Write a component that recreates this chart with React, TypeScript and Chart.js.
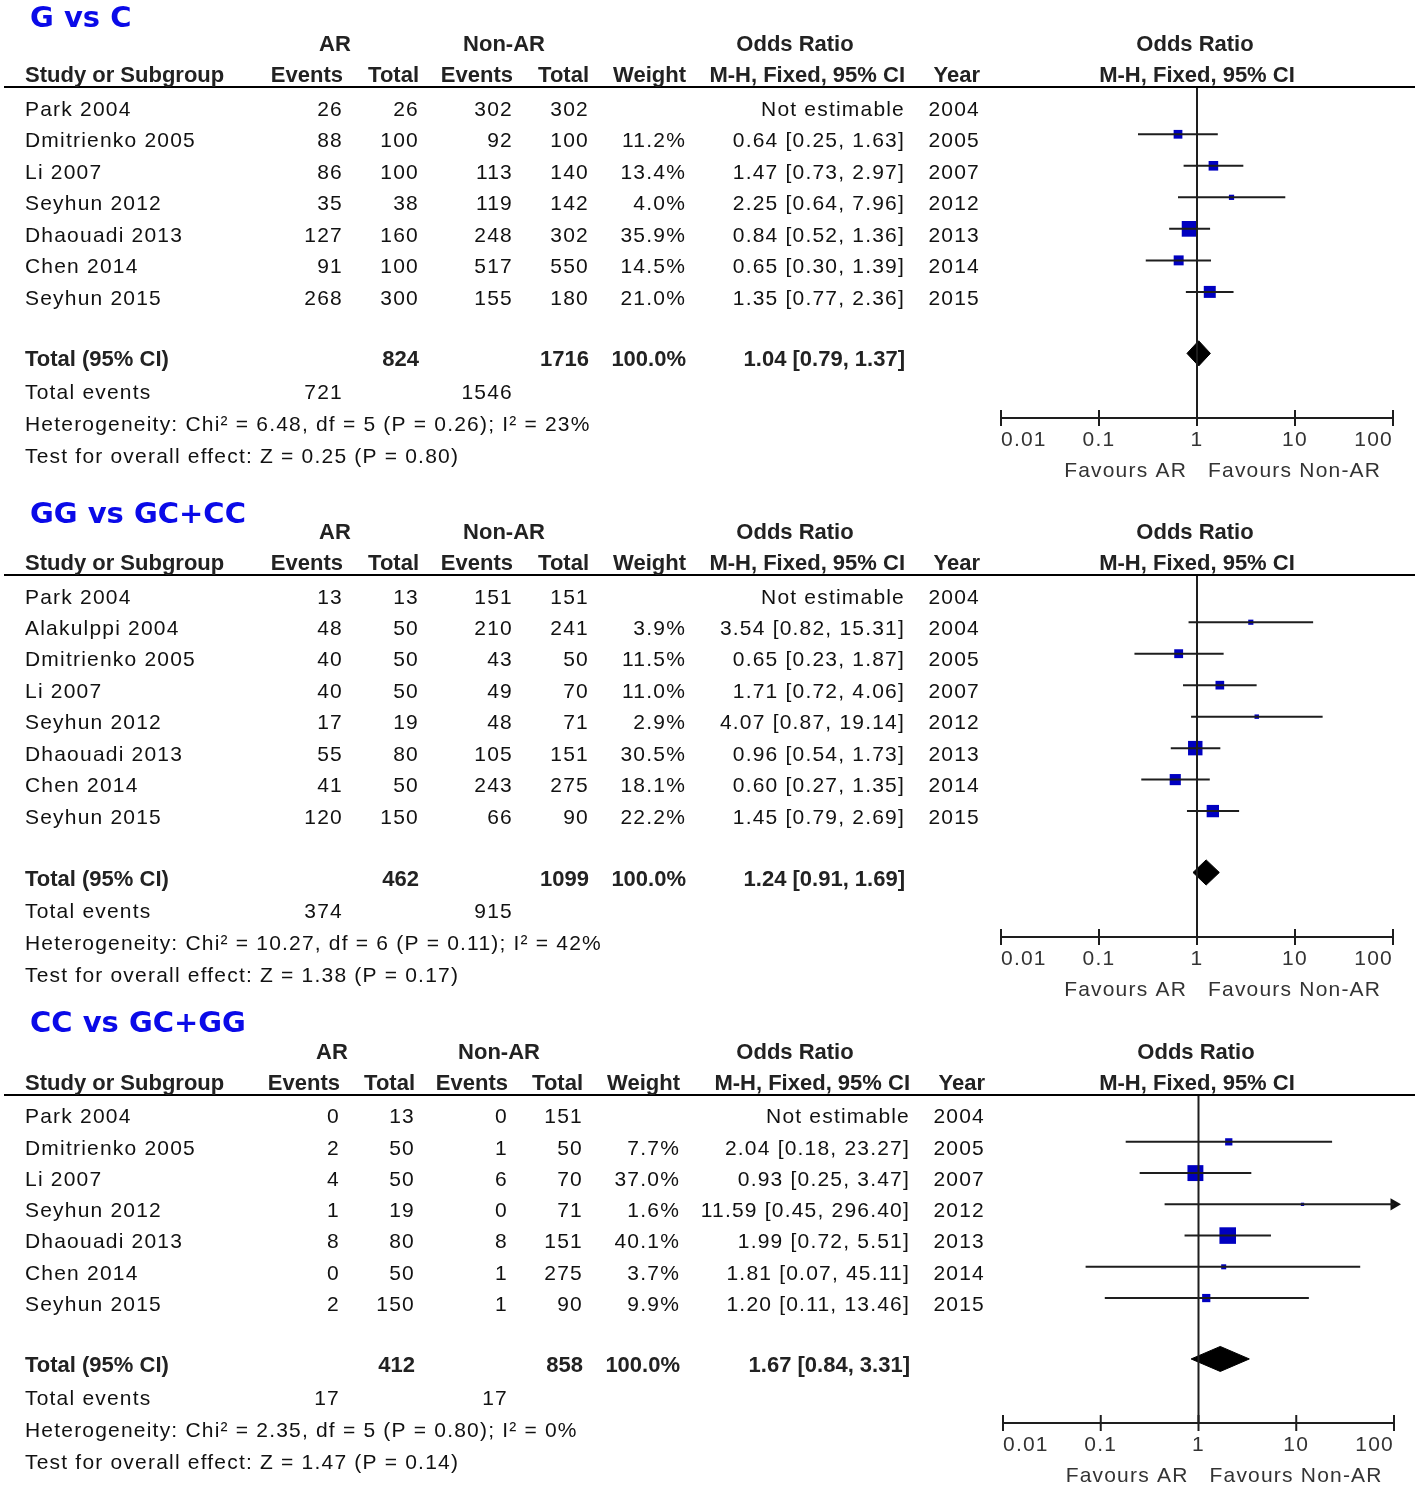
import React, { useEffect, useRef } from "react";
import { Chart, registerables } from "chart.js";

Chart.register(...registerables);

// ---------- Panel 1: G vs C ----------
const title1 = "G vs C";
const studies1 = ["Park 2004", "Dmitrienko 2005", "Li 2007", "Seyhun 2012", "Dhaouadi 2013", "Chen 2014", "Seyhun 2015"];
const arEvents1 = [26, 88, 86, 35, 127, 91, 268];
const arTotal1 = [26, 100, 100, 38, 160, 100, 300];
const nonEvents1 = [302, 92, 113, 119, 248, 517, 155];
const nonTotal1 = [302, 100, 140, 142, 302, 550, 180];
const weights1 = [null, 11.2, 13.4, 4.0, 35.9, 14.5, 21.0];
const ors1 = [null, 0.64, 1.47, 2.25, 0.84, 0.65, 1.35];
const los1 = [null, 0.25, 0.73, 0.64, 0.52, 0.3, 0.77];
const his1 = [null, 1.63, 2.97, 7.96, 1.36, 1.39, 2.36];
const years1 = [2004, 2005, 2007, 2012, 2013, 2014, 2015];
const totals1 = [824, 1716];
const totalOR1 = [1.04, 0.79, 1.37];
const totalEvents1 = [721, 1546];
const hetero1 = "Heterogeneity: Chi\u00B2 = 6.48, df = 5 (P = 0.26); I\u00B2 = 23%";
const test1 = "Test for overall effect: Z = 0.25 (P = 0.80)";

// ---------- Panel 2: GG vs GC+CC ----------
const title2 = "GG vs GC+CC";
const studies2 = ["Park 2004", "Alakulppi 2004", "Dmitrienko 2005", "Li 2007", "Seyhun 2012", "Dhaouadi 2013", "Chen 2014", "Seyhun 2015"];
const arEvents2 = [13, 48, 40, 40, 17, 55, 41, 120];
const arTotal2 = [13, 50, 50, 50, 19, 80, 50, 150];
const nonEvents2 = [151, 210, 43, 49, 48, 105, 243, 66];
const nonTotal2 = [151, 241, 50, 70, 71, 151, 275, 90];
const weights2 = [null, 3.9, 11.5, 11.0, 2.9, 30.5, 18.1, 22.2];
const ors2 = [null, 3.54, 0.65, 1.71, 4.07, 0.96, 0.6, 1.45];
const los2 = [null, 0.82, 0.23, 0.72, 0.87, 0.54, 0.27, 0.79];
const his2 = [null, 15.31, 1.87, 4.06, 19.14, 1.73, 1.35, 2.69];
const years2 = [2004, 2004, 2005, 2007, 2012, 2013, 2014, 2015];
const totals2 = [462, 1099];
const totalOR2 = [1.24, 0.91, 1.69];
const totalEvents2 = [374, 915];
const hetero2 = "Heterogeneity: Chi\u00B2 = 10.27, df = 6 (P = 0.11); I\u00B2 = 42%";
const test2 = "Test for overall effect: Z = 1.38 (P = 0.17)";

// ---------- Panel 3: CC vs GC+GG ----------
const title3 = "CC vs GC+GG";
const studies3 = ["Park 2004", "Dmitrienko 2005", "Li 2007", "Seyhun 2012", "Dhaouadi 2013", "Chen 2014", "Seyhun 2015"];
const arEvents3 = [0, 2, 4, 1, 8, 0, 2];
const arTotal3 = [13, 50, 50, 19, 80, 50, 150];
const nonEvents3 = [0, 1, 6, 0, 8, 1, 1];
const nonTotal3 = [151, 50, 70, 71, 151, 275, 90];
const weights3 = [null, 7.7, 37.0, 1.6, 40.1, 3.7, 9.9];
const ors3 = [null, 2.04, 0.93, 11.59, 1.99, 1.81, 1.2];
const los3 = [null, 0.18, 0.25, 0.45, 0.72, 0.07, 0.11];
const his3 = [null, 23.27, 3.47, 296.4, 5.51, 45.11, 13.46];
const years3 = [2004, 2005, 2007, 2012, 2013, 2014, 2015];
const totals3 = [412, 858];
const totalOR3 = [1.67, 0.84, 3.31];
const totalEvents3 = [17, 17];
const hetero3 = "Heterogeneity: Chi\u00B2 = 2.35, df = 5 (P = 0.80); I\u00B2 = 0%";
const test3 = "Test for overall effect: Z = 1.47 (P = 0.14)";

// ---------- shared labels ----------
const tickValues = [0.01, 0.1, 1, 10, 100];
const tickLabels = ["0.01", "0.1", "1", "10", "100"];
const groupHeaders = ["AR", "Non-AR", "Odds Ratio", "Odds Ratio"];
const colHeaders = ["Study or Subgroup", "Events", "Total", "Events", "Total", "Weight", "M-H, Fixed, 95% CI", "Year"];
const plotHeader = "M-H, Fixed, 95% CI";
const favours = ["Favours AR", "Favours Non-AR"];
const totalLabels = ["Total (95% CI)", "Total events"];
const totalWeight = "100.0%";
const notEstimable = "Not estimable";

const panels = [
  { title: title1, studies: studies1, arEvents: arEvents1, arTotal: arTotal1, nonEvents: nonEvents1, nonTotal: nonTotal1, weights: weights1, ors: ors1, los: los1, his: his1, years: years1, totals: totals1, totalOR: totalOR1, totalEvents: totalEvents1, hetero: hetero1, test: test1 },
  { title: title2, studies: studies2, arEvents: arEvents2, arTotal: arTotal2, nonEvents: nonEvents2, nonTotal: nonTotal2, weights: weights2, ors: ors2, los: los2, his: his2, years: years2, totals: totals2, totalOR: totalOR2, totalEvents: totalEvents2, hetero: hetero2, test: test2 },
  { title: title3, studies: studies3, arEvents: arEvents3, arTotal: arTotal3, nonEvents: nonEvents3, nonTotal: nonTotal3, weights: weights3, ors: ors3, los: los3, his: his3, years: years3, totals: totals3, totalOR: totalOR3, totalEvents: totalEvents3, hetero: hetero3, test: test3 },
];

// layout (page coordinates)
const COLS_A = [25, 343, 419, 513, 589, 686, 905, 980];
const COLS_B = [25, 340, 415, 508, 583, 680, 910, 985];
const layouts = [
  { top: 0, height: 492, line: 87, axis: 418, left: 1001, right: 1393, cols: COLS_A, groups: [335, 504, 795, 1195], mh: 1197, titleY: 19 },
  { top: 492, height: 508, line: 575, axis: 937, left: 1001, right: 1393, cols: COLS_A, groups: [335, 504, 795, 1195], mh: 1197, titleY: 515 },
  { top: 1000, height: 489, line: 1095, axis: 1423, left: 1003, right: 1394, cols: COLS_B, groups: [332, 499, 795, 1196], mh: 1197, titleY: 1024 },
];

const W = 1418;
const FONT_N = '21px "Liberation Sans", Arial, sans-serif';
const FONT_B = 'bold 22px "Liberation Sans", Arial, sans-serif';
const FONT_T = 'bold 29px "DejaVu Sans", sans-serif';
const TEXT = "#111111";
const HEAD = "#222222";
const LINE = "#1e1e1e";
const BLUE = "#0000c0";
const TICK_PAD = 10;

function fmtOR(o: number, lo: number, hi: number) {
  return `${o.toFixed(2)} [${lo.toFixed(2)}, ${hi.toFixed(2)}]`;
}

function ForestPanel({ d, lay }: { d: any; lay: any }) {
  const ref = useRef<HTMLCanvasElement>(null);
  useEffect(() => {
    const canvas = ref.current;
    if (!canvas) return;
    const n = d.studies.length;
    const yMin = -0.5;
    const yMax = n + 3;
    const tRow = n + 0.95;
    const idx: number[] = d.ors.map((v: any, i: number) => (v == null ? -1 : i)).filter((i: number) => i >= 0);
    const axisMax = tickValues[tickValues.length - 1];

    const datasets: any[] = [];
    // reference line at OR = 1
    datasets.push({
      data: [{ x: 1, y: yMin }, { x: 1, y: yMax }],
      borderColor: LINE, borderWidth: 2, pointRadius: 0, fill: false,
    });
    // confidence intervals
    idx.forEach((i) => {
      datasets.push({
        data: [{ x: d.los[i], y: i }, { x: d.his[i], y: i }],
        borderColor: LINE, borderWidth: 2, pointRadius: 0, fill: false,
      });
    });
    // study squares (area proportional to weight)
    datasets.push({
      data: idx.map((i) => ({ x: d.ors[i], y: i })),
      showLine: false,
      pointStyle: "rect",
      pointRadius: idx.map((i) => 1.85 * Math.sqrt(d.weights[i])),
      pointBackgroundColor: BLUE,
      pointBorderColor: BLUE,
      pointBorderWidth: 0,
    });
    // arrows for CIs beyond the axis
    const arrows = idx.filter((i) => d.his[i] > axisMax);
    if (arrows.length) {
      datasets.push({
        data: arrows.map((i) => ({ x: axisMax, y: i })),
        showLine: false, pointStyle: "triangle", pointRotation: 90, pointRadius: 7,
        pointBackgroundColor: "#111", pointBorderWidth: 0, clip: false,
      });
    }
    // pooled diamond
    const [o, lo, hi] = d.totalOR;
    datasets.push({
      data: [
        { x: lo, y: tRow }, { x: o, y: tRow - 0.4 }, { x: hi, y: tRow },
        { x: o, y: tRow + 0.4 }, { x: lo, y: tRow },
      ],
      fill: "shape", backgroundColor: "#000", borderColor: "#000", borderWidth: 1,
      pointRadius: 0, tension: 0,
    });
    // axis tick marks crossing the axis line
    datasets.push({
      data: tickValues.map((v) => ({ x: v, y: yMax })),
      showLine: false, pointStyle: "line", pointRotation: 90, pointRadius: 8,
      pointBorderWidth: 2, pointBorderColor: LINE, clip: false,
    });

    const T = lay.top;
    const txt = (ctx: any, s: string, x: number, y: number, align: string, font: string, color = TEXT, spacing = "1.2px") => {
      ctx.font = font;
      ctx.textAlign = align;
      ctx.textBaseline = "middle";
      ctx.fillStyle = color;
      ctx.letterSpacing = spacing;
      ctx.fillText(s, x, y);
    };

    const tablePlugin = {
      id: "forestTable",
      beforeDraw(chart: any) {
        (chart.ctx as any).letterSpacing = "1.2px";
      },
      afterDraw(chart: any) {
        const ctx = chart.ctx;
        const ys = chart.scales.y;
        const xs = chart.scales.x;
        const lineY = chart.chartArea.top;
        const c = lay.cols;
        ctx.save();
        // title
        txt(ctx, d.title, 30, lay.titleY - T, "left", FONT_T, "#0a0ae8", "0px");
        // header line
        ctx.strokeStyle = "#000";
        ctx.lineWidth = 2;
        ctx.beginPath();
        ctx.moveTo(4, lineY);
        ctx.lineTo(1415, lineY);
        ctx.stroke();
        // group headers
        const gy = lineY - 42;
        groupHeaders.forEach((g, k) => txt(ctx, g, lay.groups[k], gy, "center", FONT_B, HEAD, "0px"));
        // column headers
        const hy = lineY - 11;
        txt(ctx, colHeaders[0], c[0], hy, "left", FONT_B, HEAD, "0px");
        for (let k = 1; k < colHeaders.length; k++) txt(ctx, colHeaders[k], c[k], hy, "right", FONT_B, HEAD, "0px");
        txt(ctx, plotHeader, lay.mh, hy, "center", FONT_B, HEAD, "0px");
        // study rows
        d.studies.forEach((s: string, i: number) => {
          const y = ys.getPixelForValue(i) + 7;
          txt(ctx, s, c[0], y, "left", FONT_N);
          txt(ctx, String(d.arEvents[i]), c[1], y, "right", FONT_N);
          txt(ctx, String(d.arTotal[i]), c[2], y, "right", FONT_N);
          txt(ctx, String(d.nonEvents[i]), c[3], y, "right", FONT_N);
          txt(ctx, String(d.nonTotal[i]), c[4], y, "right", FONT_N);
          if (d.weights[i] != null) txt(ctx, d.weights[i].toFixed(1) + "%", c[5], y, "right", FONT_N);
          const orText = d.ors[i] == null ? notEstimable : fmtOR(d.ors[i], d.los[i], d.his[i]);
          txt(ctx, orText, c[6], y, "right", FONT_N);
          txt(ctx, String(d.years[i]), c[7], y, "right", FONT_N);
        });
        // total row
        const ty = ys.getPixelForValue(tRow) + 7;
        txt(ctx, totalLabels[0], c[0], ty, "left", FONT_B, HEAD, "0px");
        txt(ctx, String(d.totals[0]), c[2], ty, "right", FONT_B, HEAD, "0px");
        txt(ctx, String(d.totals[1]), c[4], ty, "right", FONT_B, HEAD, "0px");
        txt(ctx, totalWeight, c[5], ty, "right", FONT_B, HEAD, "0px");
        txt(ctx, fmtOR(o, lo, hi), c[6], ty, "right", FONT_B, HEAD, "0px");
        // total events + statistics
        txt(ctx, totalLabels[1], c[0], ty + 33, "left", FONT_N);
        txt(ctx, String(d.totalEvents[0]), c[1], ty + 33, "right", FONT_N);
        txt(ctx, String(d.totalEvents[1]), c[3], ty + 33, "right", FONT_N);
        txt(ctx, d.hetero, c[0], ty + 65, "left", FONT_N);
        txt(ctx, d.test, c[0], ty + 97, "left", FONT_N);
        // favours labels
        const x1 = xs.getPixelForValue(1);
        const fy = chart.chartArea.bottom + 53;
        txt(ctx, favours[0], x1 - 10, fy, "right", FONT_N, "#333");
        txt(ctx, favours[1], x1 + 11, fy, "left", FONT_N, "#333");
        ctx.restore();
      },
    };

    const xScaleHeight = 21 * 1.2 + TICK_PAD * 2;
    const chart = new Chart(canvas, {
      type: "line",
      data: { datasets },
      options: {
        responsive: false,
        animation: false,
        events: [],
        layout: {
          padding: {
            left: lay.left,
            right: W - lay.right,
            top: lay.line - T,
            bottom: lay.height - (lay.axis - T) - xScaleHeight,
          },
        },
        plugins: { legend: { display: false }, tooltip: { enabled: false } },
        scales: {
          x: {
            type: "logarithmic",
            min: tickValues[0],
            max: axisMax,
            position: "bottom",
            grid: { display: false, drawTicks: false },
            border: { display: true, color: LINE, width: 2 },
            afterBuildTicks: (scale: any) => {
              scale.ticks = tickValues.map((v) => ({ value: v }));
            },
            ticks: {
              autoSkip: false,
              maxRotation: 0,
              minRotation: 0,
              align: "inner",
              padding: TICK_PAD,
              color: "#333",
              font: { family: '"Liberation Sans", Arial, sans-serif', size: 21 },
              callback: (_v: any, i: number) => tickLabels[i],
            },
          },
          y: { type: "linear", min: yMin, max: yMax, reverse: true, display: false },
        },
      } as any,
      plugins: [tablePlugin],
    });
    return () => chart.destroy();
  }, [d, lay]);

  return (
    <canvas
      ref={ref}
      width={W}
      height={lay.height}
      style={{ position: "absolute", left: 0, top: lay.top, width: W, height: lay.height }}
    />
  );
}

export default function App() {
  return (
    <div style={{ position: "absolute", left: 0, top: 0, width: W, height: 1489, background: "#fff", overflow: "hidden" }}>
      {panels.map((p, k) => (
        <ForestPanel key={k} d={p} lay={layouts[k]} />
      ))}
    </div>
  );
}
